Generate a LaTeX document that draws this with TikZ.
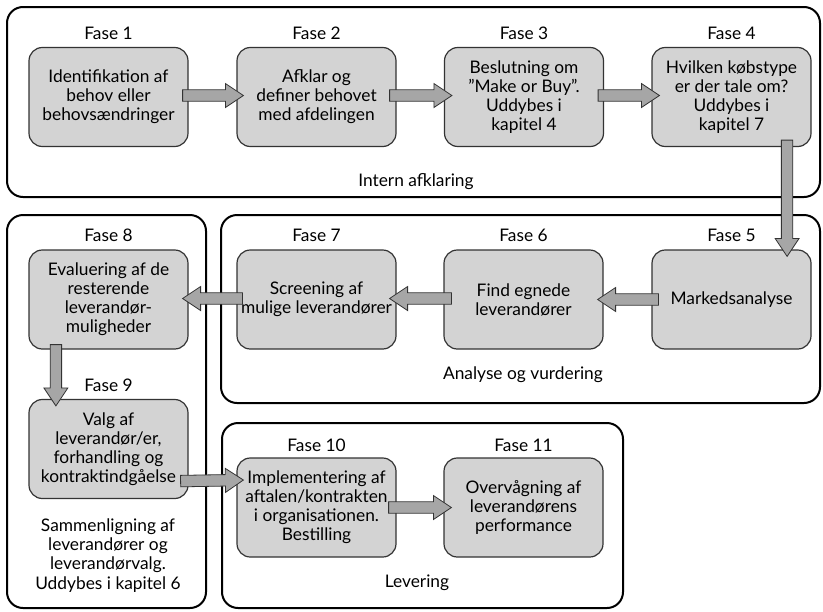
\documentclass[tikz,border=0pt]{standalone}
\usepackage{fontspec}
\setmainfont{Lato}
\usetikzlibrary{calc}
\definecolor{boxfill}{HTML}{D3D3D3}
\definecolor{arrfill}{HTML}{A6A6A6}
\definecolor{edgecol}{HTML}{333333}
\newcommand\bodyfont{\fontsize{13}{14.3}\selectfont}
\tikzset{
  outerbox/.style={draw=black, line width=1.5pt, rounded corners=12pt, inner sep=0pt},
  stepbox/.style={draw=edgecol, line width=0.9pt, fill=boxfill, rounded corners=10pt,
    minimum width=159*0.75pt, minimum height=99*0.75pt, align=center, inner sep=1pt, font=\bodyfont},
  lbl/.style={align=center, font=\bodyfont, inner sep=0pt},
  blockarrow/.style={draw=edgecol, line width=0.6pt, fill=arrfill,
    to path={let \p1=(\tikztostart), \p2=(\tikztotarget),
      \n1={atan2(\y2-\y1,\x2-\x1)}, \n2={veclen(\x2-\x1,\y2-\y1)} in
      [shift={(\p1)}, rotate=\n1]
      (0pt,4.3pt) -- (\n2*1pt-13.5pt,4.3pt) -- (\n2*1pt-13.5pt,9pt) -- (\n2*1pt,0pt)
      -- (\n2*1pt-13.5pt,-9pt) -- (\n2*1pt-13.5pt,-4.3pt) -- (0pt,-4.3pt) -- cycle}},
}
\begin{document}
\begin{tikzpicture}[x=0.75pt,y=-0.75pt]
\fill[white] (0,0) rectangle (823,611);
\useasboundingbox (0,0) rectangle (823,611);

% group frames
\node[outerbox, minimum width=813*0.75pt, minimum height=190*0.75pt] (o1) at (413.5,102) {};
\node[outerbox, minimum width=599*0.75pt, minimum height=188*0.75pt] (o2) at (520.5,309) {};
\node[outerbox, minimum width=199*0.75pt, minimum height=393*0.75pt] (o3) at (106.5,411.5) {};
\node[outerbox, minimum width=401*0.75pt, minimum height=185*0.75pt] (o4) at (422.5,515.5) {};

% phase boxes
\node[stepbox] (b1) at (108.5,97) {Identifikation af\\behov eller\\behovsændringer};
\node[stepbox] (b2) at (316.5,97) {Afklar og\\definer behovet\\med afdelingen};
\node[stepbox] (b3) at (524,97) {Beslutning om\\”Make or Buy”.\\Uddybes i\\kapitel 4};
\node[stepbox] (b4) at (731.5,97) {Hvilken købstype\\er der tale om?\\Uddybes i\\kapitel 7};
\node[stepbox] (b5) at (731.5,299.5) {Markedsanalyse};
\node[stepbox] (b6) at (523.5,299.5) {Find egnede\\leverandører};
\node[stepbox] (b7) at (316.5,299.5) {Screening af\\mulige leverandører};
\node[stepbox] (b8) at (108.5,299.5) {Evaluering af de\\resterende\\leverandør-\\muligheder};
\node[stepbox] (b9) at (108.5,449) {Valg af\\leverandør/er,\\forhandling og\\kontraktindgåelse};
\node[stepbox] (b10) at (316.5,507.5) {Implementering af\\aftalen/kontrakten\\i organisationen.\\Bestilling};
\node[stepbox] (b11) at (523.5,507.5) {Overvågning af\\leverandørens\\performance};

% phase labels
\node[lbl] (f1) at (108.5,33) {Fase 1};
\node[lbl] (f2) at (316.5,33) {Fase 2};
\node[lbl] (f3) at (524,33) {Fase 3};
\node[lbl] (f4) at (731.5,33) {Fase 4};
\node[lbl] (f5) at (731.5,235) {Fase 5};
\node[lbl] (f6) at (523.5,235) {Fase 6};
\node[lbl] (f7) at (316.5,235) {Fase 7};
\node[lbl] (f8) at (108.5,235) {Fase 8};
\node[lbl] (f9) at (108.5,385) {Fase 9};
\node[lbl] (f10) at (316.5,445) {Fase 10};
\node[lbl] (f11) at (523.5,445) {Fase 11};

% group labels
\node[lbl] (g1) at (416,182) {Intern afklaring};
\node[lbl] (g2) at (523,375) {Analyse og vurdering};
\node[lbl] (g3) at (108,555.5) {Sammenligning af\\leverandører og\\leverandørvalg.\\Uddybes i kapitel 6};
\node[lbl] (g4) at (417,583) {Levering};

% block arrows
\draw[blockarrow] ($(b1.east)+(-6,-1.5)$) to ($(b2.west)+(7,-1.5)$);
\draw[blockarrow] ($(b2.east)+(-7,-1.5)$) to ($(b3.west)+(8,-1.5)$);
\draw[blockarrow] ($(b3.east)+(-6,-1.5)$) to ($(b4.west)+(8,-1.5)$);
\draw[blockarrow] ($(b4.south east)+(-24.5,-7)$) to ($(b5.north east)+(-24.5,7)$);
\draw[blockarrow] ($(b5.west)+(7,0)$) to ($(b6.east)+(-6,0)$);
\draw[blockarrow] ($(b6.west)+(8,-1)$) to ($(b7.east)+(-7,-1)$);
\draw[blockarrow] ($(b7.west)+(6,-1)$) to ($(b8.east)+(-6,-1)$);
\draw[blockarrow] ($(b8.south west)+(27.5,-5)$) to ($(b9.north west)+(27.5,7)$);
\draw[blockarrow] ($(b9.south east)+(-8,-18)$) to ($(b10.west)+(7,-27.5)$);
\draw[blockarrow] ($(b10.east)+(-8,0)$) to ($(b11.west)+(8,0)$);
\end{tikzpicture}
\end{document}
